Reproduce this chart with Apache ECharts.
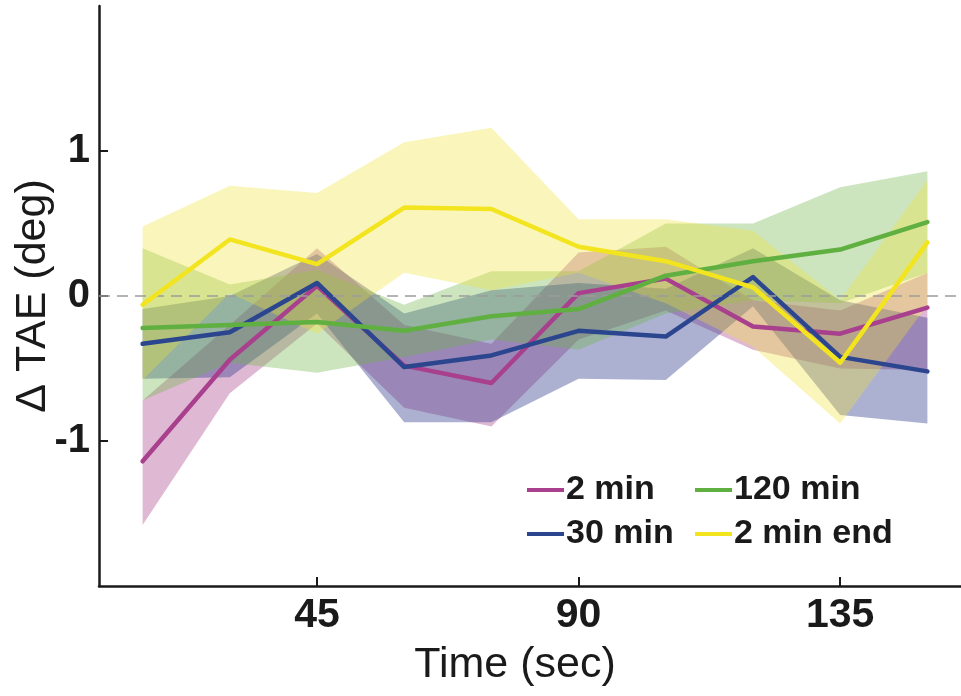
<!DOCTYPE html>
<html>
<head>
<meta charset="utf-8">
<script src="https://cdn.jsdelivr.net/npm/echarts@6/dist/echarts.min.js"></script>
<style>
  html, body { margin: 0; padding: 0; background: #fff; }
  #chart { width: 961px; height: 696px; }
</style>
</head>
<body>
<div id="chart"></div>
<script>
// ---- Data ----
const timeSec = [15, 30, 45, 60, 75, 90, 105, 120, 135, 150];
const xTickValues = [45, 90, 135];
const yTickValues = [-1, 0, 1];

const seriesNames = ['2 min', '30 min', '120 min', '2 min end'];

const mean2min   = [-1.14, -0.44, 0.07, -0.48, -0.60, 0.02, 0.12, -0.21, -0.26, -0.08];
const lower2min  = [-1.58, -0.67, -0.19, -0.77, -0.90, -0.30, -0.10, -0.37, -0.50, -0.51];
const upper2min  = [-0.72, -0.20, 0.33, -0.20, -0.33, 0.30, 0.34, -0.03, -0.10, 0.16];

const mean30min  = [-0.33, -0.25, 0.09, -0.49, -0.41, -0.24, -0.28, 0.13, -0.42, -0.52];
const lower30min = [-0.57, -0.56, -0.12, -0.87, -0.87, -0.57, -0.58, -0.07, -0.82, -0.88];
const upper30min = [-0.09, 0.00, 0.29, -0.12, 0.04, 0.09, 0.05, 0.33, -0.03, -0.15];

const mean120min  = [-0.22, -0.20, -0.18, -0.24, -0.14, -0.09, 0.14, 0.24, 0.32, 0.51];
const lower120min = [-0.72, -0.46, -0.53, -0.42, -0.30, -0.37, -0.12, -0.03, -0.05, 0.16];
const upper120min = [0.33, 0.08, 0.18, -0.06, 0.17, 0.17, 0.50, 0.50, 0.75, 0.86];

const mean2minEnd  = [-0.06, 0.39, 0.22, 0.61, 0.60, 0.34, 0.24, 0.06, -0.46, 0.37];
const lower2minEnd = [-0.58, 0.02, -0.26, 0.16, 0.04, 0.16, -0.05, -0.35, -0.88, -0.06];
const upper2minEnd = [0.48, 0.76, 0.71, 1.06, 1.16, 0.53, 0.53, 0.45, -0.03, 0.80];

// ---- Styles ----
const lineColors = ['#a8408e', '#2b468e', '#5fb040', '#f2e41e'];
const bandColors = ['rgba(165,60,135,0.36)', 'rgba(50,60,140,0.40)', 'rgba(110,180,70,0.35)', 'rgba(240,228,50,0.33)'];
const FONT = "'Liberation Sans', Arial, Helvetica, sans-serif";
const INK = '#1a1a1a';

const means = [mean2min, mean30min, mean120min, mean2minEnd];
const lowers = [lower2min, lower30min, lower120min, lower2minEnd];
const uppers = [upper2min, upper30min, upper120min, upper2minEnd];

const series = [];
// shaded bands: one polygon per band, built through the axis scales (api.coord)
seriesNames.forEach((name, k) => {
  series.push({
    type: 'custom', name: name + ' band', silent: true, z: 1, clip: true,
    encode: { x: 0, y: [1, 2] },
    data: timeSec.map((t, i) => [t, lowers[k][i], uppers[k][i]]),
    renderItem: function (params, api) {
      if (params.dataIndex !== 0) return null;
      const pts = [];
      for (let i = 0; i < timeSec.length; i++) pts.push(api.coord([timeSec[i], uppers[k][i]]));
      for (let i = timeSec.length - 1; i >= 0; i--) pts.push(api.coord([timeSec[i], lowers[k][i]]));
      return { type: 'polygon', shape: { points: pts }, style: { fill: bandColors[k] } };
    }
  });
});
// zero reference line
series.push({
  type: 'line', name: 'zero', data: [], silent: true, z: 2,
  markLine: {
    silent: true, symbol: 'none', animation: false,
    label: { show: false },
    lineStyle: { type: [11, 7], color: '#9c9c9c', width: 1.6 },
    data: [{ yAxis: 0 }]
  }
});
// mean lines
seriesNames.forEach((name, k) => {
  series.push({
    type: 'line', name: name,
    data: timeSec.map((t, i) => [t, means[k][i]]),
    symbol: 'none', showSymbol: false, z: 3 + k,
    lineStyle: { color: lineColors[k], width: 4.5, cap: 'round', join: 'round' },
    itemStyle: { color: lineColors[k] }
  });
});

const legendPos = [
  { left: 527, top: 473 },
  { left: 527, top: 517 },
  { left: 695, top: 473 },
  { left: 695, top: 517 }
];
const legends = seriesNames.map((name, k) => ({
  data: [name],
  left: legendPos[k].left, top: legendPos[k].top,
  padding: 0, icon: 'rect', itemWidth: 37, itemHeight: 4, itemGap: 0,
  selectedMode: false,
  textStyle: { fontFamily: FONT, fontWeight: 'bold', fontSize: 34, color: INK, padding: [0, 0, 0, -3] }
}));

const chart = echarts.init(document.getElementById('chart'), null, { renderer: 'canvas' });
chart.setOption({
  animation: false,
  backgroundColor: '#fff',
  grid: { left: 99, top: 6, width: 872, height: 580, containLabel: false, outerBoundsMode: 'none' },
  legend: legends,
  xAxis: {
    type: 'value', min: 7.5, max: 157.5,
    name: 'Time (sec)', nameLocation: 'middle', nameGap: 58, nameMoveOverlap: false,
    nameTextStyle: { fontFamily: FONT, fontSize: 43, color: INK, padding: [0, 40, 0, 0] },
    axisLine: { show: true, onZero: false, lineStyle: { color: INK, width: 2.5 } },
    axisTick: { show: true, inside: true, length: 9, lineStyle: { color: INK, width: 2 }, customValues: xTickValues },
    axisLabel: { fontFamily: FONT, fontWeight: 'bold', fontSize: 41, color: INK, margin: 9, customValues: xTickValues },
    splitLine: { show: false }
  },
  yAxis: {
    type: 'value', min: -2, max: 2, interval: 1,
    name: '\u0394 TAE (deg)', nameLocation: 'middle', nameGap: 44, nameRotate: 90, nameMoveOverlap: false,
    nameTextStyle: { fontFamily: FONT, fontSize: 43, color: INK },
    axisLine: { show: true, onZero: false, lineStyle: { color: INK, width: 2.5 } },
    axisTick: { show: true, inside: true, length: 9, lineStyle: { color: INK, width: 2 }, customValues: yTickValues },
    axisLabel: { fontFamily: FONT, fontWeight: 'bold', fontSize: 40, color: INK, margin: 9, customValues: yTickValues },
    splitLine: { show: false }
  },
  series: series
});
</script>
</body>
</html>
